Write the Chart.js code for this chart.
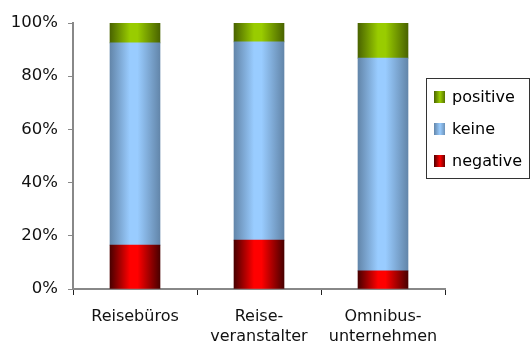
<!DOCTYPE html>
<html>
<head>
<meta charset="utf-8">
<script src="https://cdn.jsdelivr.net/npm/chart.js@4/dist/chart.umd.min.js"></script>
<style>
  html, body { margin: 0; padding: 0; background: #fff; }
  #wrap { width: 531px; height: 356px; position: relative; }
</style>
</head>
<body>
<div id="wrap"><canvas id="chart"></canvas></div>
<script>
// Data
const categories = [['Reisebüros'], ['Reise-', 'veranstalter'], ['Omnibus-', 'unternehmen']];
const negative = [16.5, 18.4, 6.8];
const keine = [76.0, 74.5, 80.0];
const positive = [7.5, 7.1, 13.2];
const seriesNames = ['negative', 'keine', 'positive'];
const yTickValues = [0, 20, 40, 60, 80, 100];

const FONT = '"DejaVu Sans", sans-serif';
const BAR_W = 50;

// cylinder-like horizontal gradient for each bar
function barGradient(dark, light) {
    return function (ctx) {
        const chart = ctx.chart;
        if (!chart.chartArea || ctx.dataIndex === undefined) return light;
        const x = chart.scales.x.getPixelForValue(ctx.dataIndex);
        const g = chart.ctx.createLinearGradient(x - BAR_W / 2, 0, x + BAR_W / 2, 0);
        g.addColorStop(0, dark);
        g.addColorStop(0.4, light);
        g.addColorStop(0.55, light);
        g.addColorStop(1, dark);
        return g;
    };
}

const palette = [
    { dark: '#4a0000', light: '#ff0000', flat: '#e00000' },
    { dark: '#6386aa', light: '#99ccff', flat: '#99ccff' },
    { dark: '#4a6400', light: '#99cc00', flat: '#8fbf00' },
];

// legend drawn as a floating box (overlaps the plot area like the original)
const boxLegend = {
    id: 'boxLegend',
    afterDraw(chart) {
        const c = chart.ctx;
        c.save();
        c.strokeStyle = '#333';
        c.lineWidth = 1;
        c.strokeRect(426.5, 78.5, 103, 100);
        c.font = '16px ' + FONT;
        c.textBaseline = 'middle';
        c.fillStyle = '#000';
        const order = [2, 1, 0];
        order.forEach((di, i) => {
            const y = 97 + i * 32;
            const p = palette[di];
            const g = c.createLinearGradient(434, 0, 446, 0);
            g.addColorStop(0, p.dark);
            g.addColorStop(0.5, p.light);
            g.addColorStop(1, p.dark);
            c.fillStyle = g;
            c.fillRect(434, y - 6, 11, 12);
            c.fillStyle = '#000';
            c.fillText(chart.data.datasets[di].label, 452, y + 1);
        });
        c.restore();
    }
};

const ctx = document.getElementById('chart').getContext('2d');
new Chart(ctx, {
    type: 'bar',
    data: {
        labels: categories,
        datasets: [negative, keine, positive].map((vals, i) => ({
            label: seriesNames[i],
            data: vals,
            backgroundColor: barGradient(palette[i].dark, palette[i].light),
            borderWidth: 0,
            barThickness: BAR_W,
        }))
    },
    options: {
        responsive: true,
        maintainAspectRatio: false,
        animation: false,
        layout: { padding: { left: 0, right: 86, top: 23, bottom: 0 } },
        plugins: {
            legend: { display: false },
            tooltip: { enabled: false },
        },
        scales: {
            x: {
                stacked: true,
                grid: { display: true, drawOnChartArea: false, drawTicks: true, tickLength: 6, color: '#222', offset: true },
                border: { color: '#888', width: 2 },
                ticks: { font: { family: FONT, size: 16, lineHeight: 1.3 }, color: '#111', padding: 11, maxRotation: 0, autoSkip: false },
                afterFit(scale) { scale.height = 67; },
            },
            y: {
                stacked: true,
                min: 0,
                max: 100,
                afterBuildTicks(scale) { scale.ticks = yTickValues.map(v => ({ value: v })); },
                grid: { display: true, drawOnChartArea: false, drawTicks: true, tickLength: 5, color: '#888' },
                border: { color: '#888', width: 2 },
                ticks: {
                    font: { family: FONT, size: 16.5 },
                    color: '#111',
                    padding: 10,
                    callback: v => v + '%',
                },
                afterFit(scale) { scale.width = 73; },
            }
        }
    },
    plugins: [boxLegend]
});
</script>
</body>
</html>
